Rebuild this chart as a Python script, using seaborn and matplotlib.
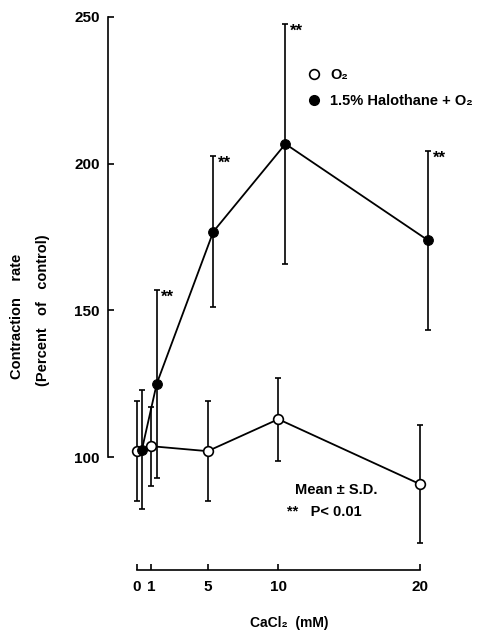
import matplotlib
matplotlib.use("Agg")
import matplotlib.pyplot as plt
import seaborn as sns
from matplotlib.lines import Line2D

# values (x offsets of the filled series kept as drawn)
conc_o2 = [0, 1, 5, 10, 20]
o2_mean = [102, 103.7, 102, 112.9, 90.8]
o2_sd = [17, 13.5, 17, 14.2, 20.1]

conc_hal = [0.35, 1.4, 5.4, 10.5, 20.6]
hal_mean = [102.5, 125, 176.8, 206.7, 173.8]
hal_sd = [20.2, 32, 25.8, 41, 30.5]
hal_signif = ["", "**", "**", "**", "**"]

xticks = [0, 1, 5, 10, 20]
yticks = [100, 150, 200, 250]

sns.set_style("ticks")
plt.rcParams["font.family"] = ["Liberation Sans", "DejaVu Sans"]
plt.rcParams["font.weight"] = "bold"
for key in ["text.color", "axes.labelcolor", "xtick.color", "ytick.color",
            "axes.edgecolor"]:
    plt.rcParams[key] = "black"

fig = plt.figure(figsize=(4.82, 6.33), dpi=100)
ax = fig.add_axes([0.224, 0.0995, 0.751, 0.885])

# error bars
ax.errorbar(conc_o2, o2_mean, yerr=o2_sd, fmt="none", ecolor="black",
            elinewidth=1.2, capsize=2, capthick=1.2, zorder=1)
ax.errorbar(conc_hal, hal_mean, yerr=hal_sd, fmt="none", ecolor="black",
            elinewidth=1.2, capsize=2, capthick=1.2, zorder=1)

# lines + markers
sns.lineplot(x=conc_o2, y=o2_mean, ax=ax, color="black", linewidth=1.3,
             marker="o", markersize=7, markerfacecolor="white",
             markeredgecolor="black", markeredgewidth=1.2, zorder=3)
sns.lineplot(x=conc_hal, y=hal_mean, ax=ax, color="black", linewidth=1.3,
             marker="o", markersize=7, markerfacecolor="black",
             markeredgecolor="black", zorder=3)

# significance marks
for x, m, s, lab in zip(conc_hal, hal_mean, hal_sd, hal_signif):
    if lab:
        ax.text(x + 0.3, m + s, lab, fontsize=12, fontweight="bold",
                ha="left", va="top")

ax.set_xlim(-2.05, 23.55)
ax.set_ylim(61.5, 252.4)
ax.set_xticks(xticks)
ax.set_yticks(yticks)
ax.tick_params(axis="x", direction="in", length=4, width=1.2, pad=7,
               labelsize=11)
ax.tick_params(axis="y", direction="in", length=4, width=1.2, pad=6,
               labelsize=11)
for lab in ax.get_xticklabels() + ax.get_yticklabels():
    lab.set_fontweight("bold")

sns.despine(ax=ax)
ax.spines["left"].set_bounds(100, 250)
ax.spines["bottom"].set_bounds(0, 20)
ax.spines["left"].set_linewidth(1.2)
ax.spines["bottom"].set_linewidth(1.2)

ax.set_xlabel("CaCl₂  (mM)", fontsize=10, fontweight="bold", labelpad=16)
fig.text(0.035, 0.50, "Contraction    rate", rotation=90, fontsize=10.5,
         fontweight="bold", ha="center", va="center")
fig.text(0.089, 0.51, "(Percent   of   control)", rotation=90,
         fontsize=10.5, fontweight="bold", ha="center", va="center")

# legend
handles = [
    Line2D([], [], linestyle="none", marker="o", markersize=7,
           markerfacecolor="white", markeredgecolor="black",
           markeredgewidth=1.2, label="O₂"),
    Line2D([], [], linestyle="none", marker="o", markersize=7,
           markerfacecolor="black", markeredgecolor="black",
           label="1.5% Halothane + O₂"),
]
ax.legend(handles=handles, loc="upper left", bbox_to_anchor=(0.51, 0.92),
          frameon=False, prop={"size": 10.5, "weight": "bold"},
          handletextpad=0.5, labelspacing=0.85, handlelength=1.2)

ax.text(11.2, 88.7, "Mean ± S.D.", fontsize=10.5, fontweight="bold",
        ha="left", va="center")
ax.text(10.6, 81.2, "**   P< 0.01", fontsize=10.5, fontweight="bold",
        ha="left", va="center")

fig.savefig("out.png", dpi=100)
